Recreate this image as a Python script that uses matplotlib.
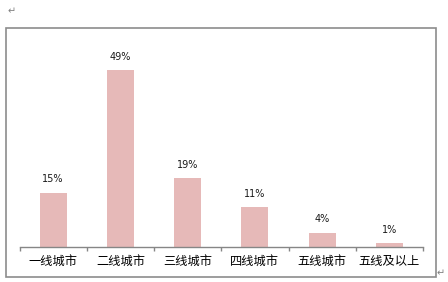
import matplotlib
matplotlib.use("Agg")
from matplotlib import pyplot as plt
from matplotlib.patches import Rectangle
import numpy as np

categories = ["一线城市", "二线城市", "三线城市", "四线城市", "五线城市", "五线及以上"]
values = [15, 49, 19, 11, 4, 1]
labels = ["15%", "49%", "19%", "11%", "4%", "1%"]

if __name__ == "__main__":
    W, H = 448, 282
    fig = plt.figure(figsize=(W / 100, H / 100), dpi=100)
    fig.patch.set_facecolor("white")

    # outer chart border
    fig.patches.append(Rectangle((6 / W, 1 - 277 / H), 430 / W, 249 / H,
                                 transform=fig.transFigure, fill=False,
                                 edgecolor="#8c8c8c", linewidth=1.2))
    fig.text(8 / W, 1 - 11 / H, "↵", fontsize=7, color="#808080",
             family="DejaVu Sans", ha="left", va="center")
    fig.text(437 / W, 1 - 273 / H, "↵", fontsize=7, color="#808080",
             family="DejaVu Sans", ha="left", va="center")

    left, right = 19.5 / W, 423 / W
    bottom, top = 1 - 247 / H, 1 - 40 / H
    ax = fig.add_axes([left, bottom, right - left, top - bottom])

    x = np.arange(len(categories))
    ax.bar(x, values, width=0.4, color="#E6B9B8")
    for xi, v, lab in zip(x, values, labels):
        ax.annotate(lab, (xi, v), xytext=(0, 6), textcoords="offset points",
                    ha="center", va="bottom", fontsize=7, color="#1a1a1a",
                    family="DejaVu Sans")

    ax.set_xlim(-0.5, len(categories) - 0.5)
    ax.set_ylim(0, 57.3)
    ax.set_yticks([])
    for s in ["left", "right", "top"]:
        ax.spines[s].set_visible(False)
    ax.spines["bottom"].set_color("#868686")
    ax.spines["bottom"].set_linewidth(1.0)

    ax.set_xticks(x)
    ax.set_xticklabels(categories, family=["Noto Sans CJK SC", "DejaVu Sans"],
                       fontsize=8.8, color="black")
    ax.tick_params(axis="x", which="major", length=0, pad=6)
    ax.set_xticks(np.arange(len(categories) + 1) - 0.5, minor=True)
    ax.tick_params(axis="x", which="minor", length=3, color="#868686", width=1.0)

    plt.savefig("out.png", dpi=100)
